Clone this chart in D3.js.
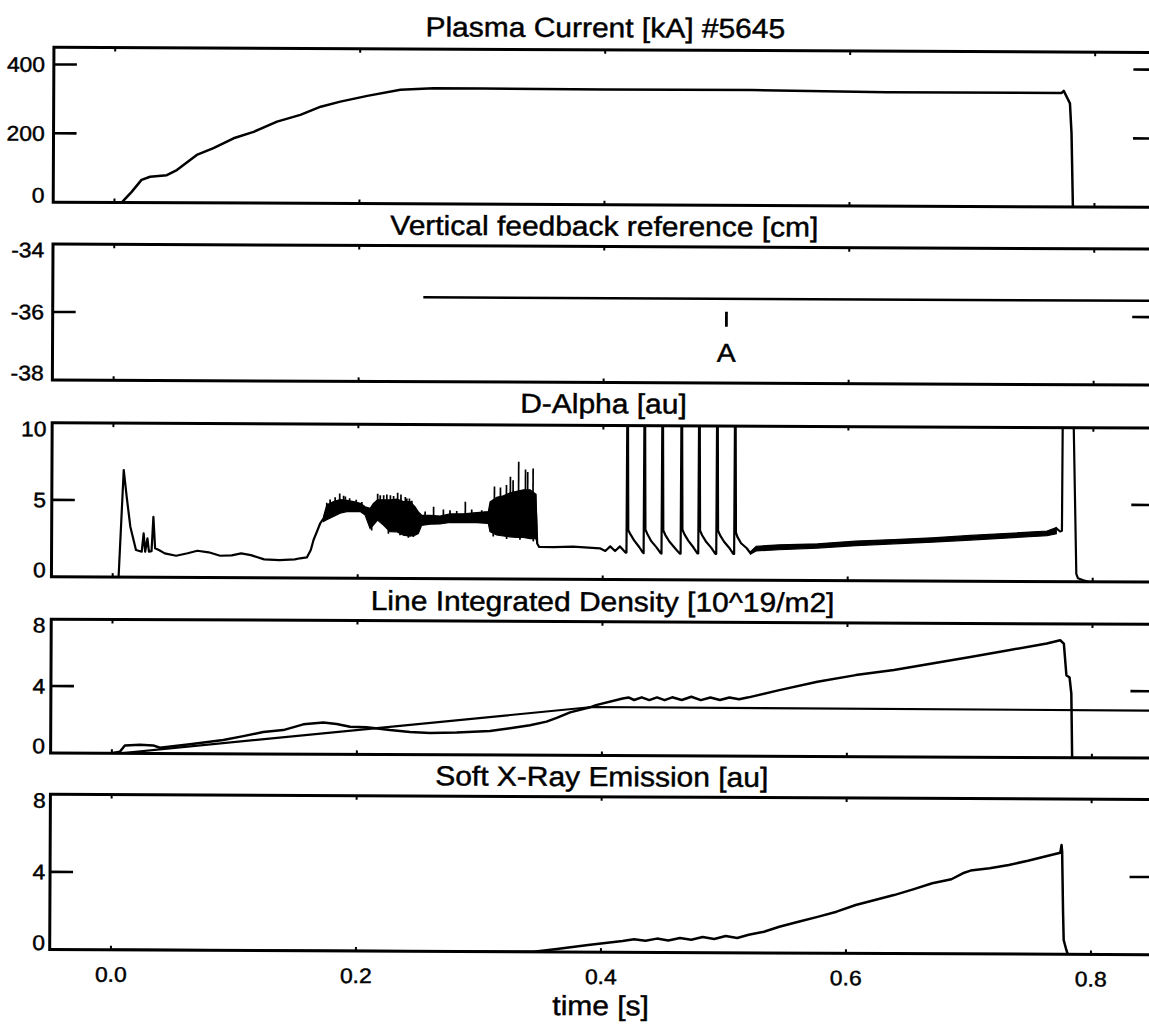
<!DOCTYPE html>
<html>
<head>
<meta charset="utf-8">
<script src="https://cdn.jsdelivr.net/npm/d3@7"></script>
<style>
  body { margin: 0; background: #fff; }
  svg { display: block; }
  text { font-family: "Liberation Sans", Arial, Helvetica, sans-serif; fill: #000; stroke: #000; stroke-width: 0.45px; }
</style>
</head>
<body>
<div id="chart"></div>
<script>
// ---- values (shot #5645) ----

var timeTicks = [0.0, 0.2, 0.4, 0.6, 0.8];
var timeTickLabels = ["0.0", "0.2", "0.4", "0.6", "0.8"];
var timeLabel = "time [s]";

var panelTitles = [
    "Plasma Current [kA] #5645",
    "Vertical feedback reference [cm]",
    "D-Alpha [au]",
    "Line Integrated Density [10^19/m2]",
    "Soft X-Ray Emission [au]"
];
var yDomains = [[0, 450], [-38, -34], [0, 10], [0, 8], [0, 8]];
var yTicks = [[0, 200, 400], [-38, -36, -34], [0, 5, 10], [0, 4, 8], [0, 4, 8]];

// plasma current [kA] : [time, value]
var plasmaCurrent = [
    [0.006, 0], [0.014, 31], [0.022, 66], [0.029, 75], [0.0426, 80], [0.0508, 95],
    [0.067, 139], [0.0806, 159], [0.097, 188], [0.1133, 207], [0.1324, 237],
    [0.1514, 257], [0.168, 281], [0.184, 296], [0.206, 313], [0.233, 331],
    [0.26, 336], [0.30, 336], [0.40, 335], [0.52, 335], [0.63, 331], [0.7728, 331],
    [0.7745, 337], [0.7769, 320], [0.7796, 301], [0.781, 214], [0.7824, 0]
];

// vertical feedback reference [cm]
var verticalRef = [[0.2525, -35.52], [0.85, -35.52]];
var markerA = { t: 0.5, top: -35.9, bottom: -36.34, textAt: -37.37, label: "A" };

// D-alpha main trace
var dAlpha = [
    [0.000, 0], [0.0048, 0], [0.0086, 6.96], [0.0111, 5.23], [0.0142, 3.28], [0.0189, 1.77],
    [0.0236, 1.66], [0.0251, 2.85], [0.0264, 1.66], [0.0282, 2.53], [0.0295, 1.66],
    [0.0316, 1.7], [0.0330, 3.93], [0.0345, 1.88], [0.0376, 1.77], [0.0424, 1.56],
    [0.0517, 1.41], [0.0611, 1.57], [0.069, 1.74], [0.0783, 1.64], [0.0876, 1.42],
    [0.097, 1.45], [0.1048, 1.58], [0.1127, 1.47], [0.1236, 1.2], [0.1361, 1.16],
    [0.1486, 1.21], [0.1529, 1.28], [0.1584, 1.34], [0.1616, 1.82], [0.1638, 2.47],
    [0.1665, 3.01], [0.1692, 3.56], [0.1719, 3.88], [0.1745, 4.3], [0.19, 4.7],
    [0.2058, 4.4], [0.2099, 3.9], [0.22, 4.3], [0.24, 3.9], [0.2493, 3.6], [0.26, 3.85],
    [0.29, 3.95], [0.3064, 4.0], [0.3078, 4.1], [0.33, 4.5], [0.3453, 4.3], [0.3464, 2.31],
    [0.348, 2.09], [0.36, 2.08], [0.3757, 2.12], [0.3976, 2.02], [0.402, 1.85],
    [0.406, 2.15], [0.41, 1.85], [0.414, 2.15], [0.4185, 1.75],
    // ELMs
    [0.4193, 1.75], [0.4195, 12], [0.4199, 12], [0.4207, 3.2], [0.4224, 2.95], [0.4255, 2.55], [0.4298, 2.1], [0.4327, 1.75],
    [0.4333, 1.72], [0.4335, 12], [0.4339, 12], [0.4347, 3.25], [0.4364, 2.95], [0.4395, 2.5], [0.4438, 2.1], [0.4472, 1.72],
    [0.4479, 1.7], [0.4481, 12], [0.4485, 12], [0.4493, 3.2], [0.4510, 2.9], [0.4541, 2.5], [0.4584, 2.1], [0.4628, 1.7],
    [0.4635, 1.7], [0.4637, 12], [0.4641, 12], [0.4649, 3.25], [0.4666, 2.95], [0.4697, 2.55], [0.474, 2.1], [0.4772, 1.72],
    [0.4779, 1.72], [0.4781, 12], [0.4785, 12], [0.4793, 3.2], [0.481, 2.9], [0.4841, 2.5], [0.4884, 2.1], [0.4919, 1.7],
    [0.4926, 1.7], [0.4928, 12], [0.4932, 12], [0.4940, 3.2], [0.4957, 2.9], [0.4988, 2.5], [0.5031, 2.1], [0.5065, 1.7],
    [0.5072, 1.7], [0.5074, 12], [0.5078, 12], [0.5086, 3.1], [0.5097, 2.82], [0.5128, 2.39], [0.5175, 2.07], [0.5206, 1.74],
    // H-mode flat top and disruption
    [0.5252, 2.06], [0.5439, 2.14], [0.5752, 2.24], [0.6064, 2.42], [0.6376, 2.54],
    [0.6688, 2.66], [0.70, 2.82], [0.7313, 2.97], [0.7625, 3.13], [0.7701, 3.46],
    [0.7732, 3.25], [0.7747, 3.3], [0.7750, 12], [0.7834, 12], [0.7866, 0.5],
    [0.7880, 0.22], [0.7918, 0.11], [0.7965, 0]
];

// D-alpha noisy stretches : [time, low, high]
var dAlphaNoiseA = [
    [0.1719, 3.68, 4.0], [0.1745, 3.79, 4.76], [0.18, 4.0, 4.98], [0.1854, 4.22, 5.1],
    [0.1909, 4.33, 5.05], [0.1963, 4.33, 4.98], [0.2018, 4.33, 4.87], [0.2058, 4.11, 4.65],
    [0.2099, 3.24, 4.54], [0.2126, 3.46, 4.87], [0.2159, 3.79, 5.1], [0.2208, 3.46, 5.1],
    [0.2262, 3.03, 5.1], [0.2317, 3.03, 5.15], [0.2371, 2.81, 5.0], [0.2425, 2.75, 5.0],
    [0.2466, 2.81, 4.65], [0.2493, 2.92, 4.33], [0.252, 3.46, 4.11], [0.2588, 3.53, 4.11],
    [0.267, 3.55, 4.07], [0.2751, 3.65, 4.21], [0.286, 3.65, 4.22], [0.2969, 3.65, 4.3],
    [0.3064, 3.6, 4.37], [0.3078, 3.07, 5.0], [0.3132, 2.85, 5.3], [0.3186, 2.79, 5.4],
    [0.3241, 2.74, 5.6], [0.3295, 2.7, 5.7], [0.335, 2.7, 5.8], [0.3404, 2.63, 5.8],
    [0.3453, 2.63, 5.5], [0.3464, 2.31, 2.4]
];
var dAlphaNoiseB = [
    [0.5206, 1.7, 1.85], [0.5252, 1.9, 2.2], [0.5439, 1.98, 2.3], [0.5752, 2.1, 2.38],
    [0.6064, 2.27, 2.57], [0.6376, 2.4, 2.68], [0.6688, 2.52, 2.8], [0.70, 2.67, 2.97],
    [0.7313, 2.82, 3.12], [0.7625, 2.98, 3.28], [0.7701, 3.1, 3.5]
];
// isolated spikes sticking out of the noise : [time, base, tip]
var dAlphaSpikes = [
    [0.1745, 4.6, 4.9], [0.1772, 4.7, 5.1], [0.1813, 4.8, 5.25], [0.1850, 4.9, 5.5],
    [0.1882, 4.9, 5.35], [0.1896, 4.9, 5.3], [0.1931, 4.9, 5.2], [0.1985, 4.8, 5.1],
    [0.2031, 4.7, 4.95], [0.2160, 4.8, 5.5], [0.2181, 4.9, 5.4], [0.2209, 4.8, 5.4],
    [0.2235, 4.9, 5.45], [0.2264, 4.8, 5.4], [0.229, 4.9, 5.35], [0.2323, 4.8, 5.56],
    [0.235, 4.9, 5.45], [0.2386, 4.8, 5.3], [0.2398, 4.9, 5.2], [0.2419, 4.8, 5.19],
    [0.2439, 4.8, 5.05], [0.2548, 4.05, 4.35], [0.2617, 4.0, 4.67], [0.2697, 4.05, 4.5],
    [0.2751, 4.1, 4.45], [0.2806, 4.1, 4.4], [0.2876, 4.1, 5.0], [0.2928, 4.15, 4.5],
    [0.301, 4.2, 4.45], [0.3113, 5.0, 6.0], [0.3162, 5.0, 5.94], [0.3211, 5.2, 6.1],
    [0.3243, 5.4, 6.64], [0.3265, 5.4, 6.42], [0.331, 5.5, 7.61], [0.3366, 5.5, 7.11],
    [0.3384, 5.5, 6.96], [0.3428, 5.4, 7.18],
    // downward
    [0.2112, 3.5, 3.1], [0.2249, 3.2, 2.9], [0.2344, 3.1, 2.8], [0.2412, 2.9, 2.65],
    [0.2453, 2.9, 2.7], [0.3105, 3.0, 2.75], [0.3214, 2.85, 2.6], [0.3323, 2.8, 2.55],
    [0.3432, 2.7, 2.45]
];

// line integrated density [10^19/m2]
var density = [
    [0.0, 0], [0.0065, 0.09], [0.0106, 0.47], [0.0229, 0.51], [0.0337, 0.48], [0.0392, 0.34],
    [0.0637, 0.56], [0.0909, 0.82], [0.1072, 1.06], [0.1235, 1.31], [0.1398, 1.43],
    [0.1562, 1.78], [0.1725, 1.9], [0.1834, 1.81], [0.1943, 1.65], [0.2079, 1.62],
    [0.2269, 1.46], [0.2433, 1.35], [0.2596, 1.3], [0.2814, 1.33], [0.3086, 1.43],
    [0.3249, 1.6], [0.3412, 1.79], [0.3547, 2.01], [0.363, 2.24], [0.3739, 2.57],
    [0.3902, 2.88], [0.395, 3.01], [0.4168, 3.42], [0.4215, 3.48], [0.4261, 3.33],
    [0.4323, 3.49], [0.4385, 3.33], [0.4448, 3.49], [0.451, 3.33], [0.4572, 3.5],
    [0.465, 3.34], [0.4728, 3.54], [0.4806, 3.34], [0.4884, 3.5], [0.4962, 3.35],
    [0.5039, 3.51], [0.5118, 3.4], [0.5196, 3.52], [0.5446, 3.96], [0.5757, 4.47],
    [0.6069, 4.88], [0.6381, 5.19], [0.6692, 5.6], [0.7004, 6.0], [0.7316, 6.41],
    [0.7628, 6.82], [0.7737, 7.02], [0.7767, 6.82], [0.7789, 4.93], [0.7815, 4.79],
    [0.783, 3.84], [0.7839, 0]
];
// density reference (ramp then flat)
var densityRef = [[0.007, 0], [0.392, 2.9], [0.85, 2.84]];

// soft x-ray emission [au]
var softXray = [
    [0.0, 0], [0.345, 0], [0.3624, 0.14], [0.3895, 0.36], [0.4176, 0.58], [0.427, 0.67],
    [0.4363, 0.6], [0.4457, 0.71], [0.455, 0.62], [0.4644, 0.75], [0.4737, 0.66],
    [0.483, 0.8], [0.4924, 0.7], [0.5018, 0.86], [0.5112, 0.76], [0.5205, 0.93],
    [0.533, 1.09], [0.5455, 1.35], [0.5611, 1.61], [0.5767, 1.87], [0.5922, 2.14],
    [0.6078, 2.49], [0.6234, 2.75], [0.639, 3.01], [0.6546, 3.31], [0.6702, 3.63],
    [0.6858, 3.84], [0.6951, 4.15], [0.7014, 4.29], [0.717, 4.41], [0.7326, 4.59],
    [0.7482, 4.81], [0.7638, 5.06], [0.7746, 5.23], [0.7756, 5.63], [0.7761, 5.29],
    [0.7771, 2.11], [0.7777, 0.74], [0.7799, 0.22], [0.7812, 0]
];

// ---- layout ----
var W = 1149, H = 1028;
var panelTop = [49.7, 246.4, 425.3, 621.6, 796.7];
var panelBottom = [204.6, 382.4, 579.3, 755.4, 952];
var titleBaseline = [37, 235.5, 413, 611, 786];
var labelRight = [43, 43, 46, 46, 47];
var tickLen = 23;
var textStretch = 1.09;   // the scanned lettering is a bit wider than Arial

var svg = d3.select("#chart").append("svg")
    .attr("width", W)
    .attr("height", H);
svg.append("rect").attr("width", W).attr("height", H).attr("fill", "#fff");

// the scan is tilted slightly clockwise
var root = svg.append("g").attr("transform", "rotate(0.27,575,514)");

var x = d3.scaleLinear().domain([-0.05, 0.85]).range([51.75, 1154.25]);
var xLeft = x.range()[0], xRight = x.range()[1];
var xMid = (xLeft + xRight) / 2;

function addText(g, px, py, str, size, anchor) {
    return g.append("text")
        .attr("transform", "translate(" + px + "," + py + ") scale(" + textStretch + ",1)")
        .attr("text-anchor", anchor)
        .style("font-size", size + "px")
        .text(str);
}

function drawLine(g, y, data, width) {
    var line = d3.line()
        .x(function(d) { return x(d[0]); })
        .y(function(d) { return y(d[1]); });
    g.append("path")
        .datum(data)
        .attr("d", line)
        .attr("fill", "none")
        .attr("stroke", "#000")
        .attr("stroke-width", width || 2.5)
        .attr("stroke-linejoin", "round");
}

function drawBand(g, y, data) {
    var area = d3.area()
        .x(function(d) { return x(d[0]); })
        .y0(function(d) { return y(d[1]); })
        .y1(function(d) { return y(d[2]); });
    g.append("path")
        .datum(data)
        .attr("d", area)
        .attr("fill", "#000")
        .attr("stroke", "#000")
        .attr("stroke-width", 1.2);
}

panelTitles.forEach(function(title, i) {
    var top = panelTop[i], bottom = panelBottom[i];
    var y = d3.scaleLinear().domain(yDomains[i]).range([bottom, top]);
    var g = root.append("g");

    g.append("clipPath").attr("id", "clip" + i)
        .append("rect")
        .attr("x", xLeft).attr("y", top)
        .attr("width", xRight - xLeft).attr("height", bottom - top);
    var plot = g.append("g").attr("clip-path", "url(#clip" + i + ")");

    if (i == 0) {
        drawLine(plot, y, plasmaCurrent);
    } else if (i == 1) {
        drawLine(plot, y, verticalRef);
        g.append("line")
            .attr("x1", x(markerA.t)).attr("x2", x(markerA.t))
            .attr("y1", y(markerA.top)).attr("y2", y(markerA.bottom))
            .attr("stroke", "#000").attr("stroke-width", 2.8);
        addText(g, x(markerA.t), y(markerA.textAt), markerA.label, 26, "middle");
    } else if (i == 2) {
        drawBand(plot, y, dAlphaNoiseA);
        drawBand(plot, y, dAlphaNoiseB);
        plot.selectAll("line.spike")
            .data(dAlphaSpikes)
            .enter()
            .append("line")
            .attr("class", "spike")
            .attr("x1", function(d) { return x(d[0]); })
            .attr("x2", function(d) { return x(d[0]); })
            .attr("y1", function(d) { return y(d[1]); })
            .attr("y2", function(d) { return y(d[2]); })
            .attr("stroke", "#000")
            .attr("stroke-width", 1.7);
        drawLine(plot, y, dAlpha, 2.2);
    } else if (i == 3) {
        drawLine(plot, y, densityRef, 2.2);
        drawLine(plot, y, density);
    } else {
        drawLine(plot, y, softXray);
    }

    // frame (right side runs just past the page edge)
    g.append("path")
        .attr("d", "M" + xRight + "," + top + "H" + xLeft + "V" + bottom + "H" + xRight + "Z")
        .attr("fill", "none")
        .attr("stroke", "#000")
        .attr("stroke-width", 3);

    // y ticks on both sides, pointing inward
    yTicks[i].forEach(function(v) {
        var ty = y(v);
        if (ty > top + 1 && ty < bottom - 1) {
            g.append("line")
                .attr("x1", xLeft).attr("x2", xLeft + tickLen)
                .attr("y1", ty).attr("y2", ty)
                .attr("stroke", "#000").attr("stroke-width", 2.6);
            g.append("line")
                .attr("x1", xRight - tickLen).attr("x2", xRight)
                .attr("y1", ty).attr("y2", ty)
                .attr("stroke", "#000").attr("stroke-width", 2.6);
        }
        var cy = Math.min(Math.max(ty, top + 6), bottom - 7);
        addText(g, labelRight[i], cy + 7.5, String(v), 21, "end");
    });

    // small time ticks on top and bottom edges
    timeTicks.forEach(function(t) {
        g.append("line")
            .attr("x1", x(t)).attr("x2", x(t))
            .attr("y1", top).attr("y2", top + 4)
            .attr("stroke", "#000").attr("stroke-width", 2);
        g.append("line")
            .attr("x1", x(t)).attr("x2", x(t))
            .attr("y1", bottom).attr("y2", bottom - 4)
            .attr("stroke", "#000").attr("stroke-width", 2);
    });

    addText(g, xMid, titleBaseline[i], title, 27.5, "middle");
});

// time axis labels under the last panel
timeTicks.forEach(function(t, k) {
    addText(root, x(t), 984, timeTickLabels[k], 21, "middle");
});
addText(root, xMid, 1015, timeLabel, 27.5, "middle");
</script>
</body>
</html>
